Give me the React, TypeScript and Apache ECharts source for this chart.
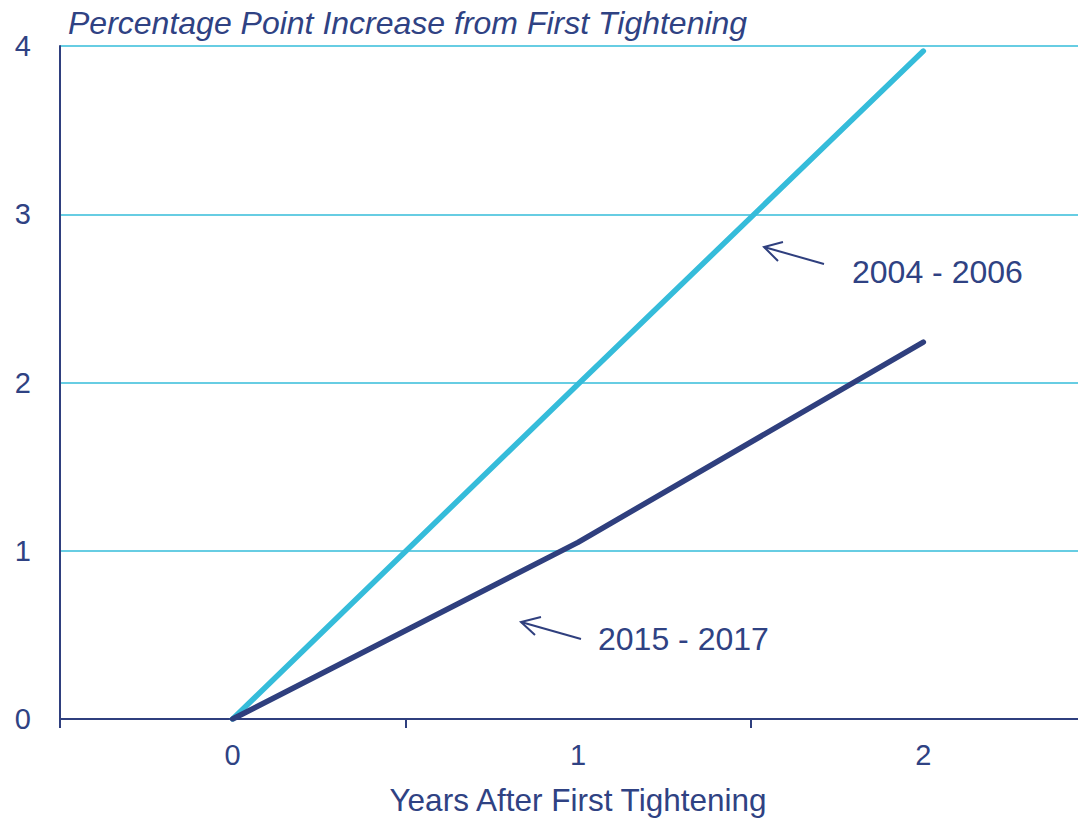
import React, { useEffect, useRef } from "react";
import * as echarts from "echarts";

const categories = ["0", "1", "2"];
const series2004 = [0, 1.99, 3.97];
const series2015 = [0, 1.05, 2.24];
const yTicks = [0, 1, 2, 3, 4];

const NAVY = "#2F3F7E";
const CYAN = "#35BCDA";
const TEXT = "#2F4283";
const FONT = "'Liberation Sans', Arial, sans-serif";

export default function App() {
  const ref = useRef<HTMLDivElement>(null);
  useEffect(() => {
    document.body.style.margin = "0";
    const chart = echarts.init(ref.current!, null, { renderer: "svg" });
    chart.setOption({
      animation: false,
      backgroundColor: "#ffffff",
      textStyle: { fontFamily: FONT },
      title: {
        text: "Percentage Point Increase from First Tightening",
        left: 63,
        top: 2,
        textStyle: { fontFamily: FONT, fontSize: 32, fontStyle: "italic", fontWeight: "normal", color: TEXT },
      },
      grid: { left: 60, top: 46, bottom: 99, width: 1036, containLabel: false, outerBoundsMode: "none" },
      xAxis: {
        type: "category",
        data: categories,
        boundaryGap: true,
        name: "Years After First Tightening",
        nameLocation: "middle",
        nameGap: 65,
        nameTextStyle: { fontFamily: FONT, fontSize: 31.5, color: TEXT },
        axisLine: { lineStyle: { color: NAVY, width: 2 } },
        axisTick: { show: true, length: 9, lineStyle: { color: NAVY, width: 2 } },
        axisLabel: { fontFamily: FONT, fontSize: 29, color: TEXT, margin: 21 },
        splitLine: { show: false },
      },
      yAxis: {
        type: "value",
        min: yTicks[0],
        max: yTicks[yTicks.length - 1],
        interval: 1,
        axisLine: { show: true, lineStyle: { color: NAVY, width: 2 } },
        axisTick: { show: false },
        axisLabel: { fontFamily: FONT, fontSize: 29, color: TEXT, margin: 29 },
        splitLine: { lineStyle: { color: CYAN, width: 1.5 } },
      },
      series: [
        {
          name: "2004 - 2006",
          type: "line",
          data: series2004,
          symbol: "none",
          lineStyle: { color: CYAN, width: 5.5, cap: "round" },
          z: 3,
        },
        {
          name: "2015 - 2017",
          type: "line",
          data: series2015,
          symbol: "none",
          lineStyle: { color: NAVY, width: 5.5, cap: "round" },
          z: 4,
        },
      ],
      graphic: [
        { type: "line", shape: { x1: 824, y1: 264, x2: 764, y2: 247 }, style: { stroke: NAVY, lineWidth: 2 } },
        { type: "polyline", shape: { points: [[783, 242], [764, 247], [778, 261]] }, style: { stroke: NAVY, lineWidth: 2, fill: null } },
        { type: "text", x: 852, y: 272, style: { text: "2004 - 2006", font: `32px ${FONT}`, fill: TEXT, textVerticalAlign: "middle" } },
        { type: "line", shape: { x1: 581, y1: 639, x2: 521, y2: 622 }, style: { stroke: NAVY, lineWidth: 2 } },
        { type: "polyline", shape: { points: [[541, 617], [521, 622], [535, 635]] }, style: { stroke: NAVY, lineWidth: 2, fill: null } },
        { type: "text", x: 598, y: 639, style: { text: "2015 - 2017", font: `32px ${FONT}`, fill: TEXT, textVerticalAlign: "middle" } },
      ],
    });
    return () => chart.dispose();
  }, []);
  return <div ref={ref} style={{ width: 1078, height: 818 }} />;
}
